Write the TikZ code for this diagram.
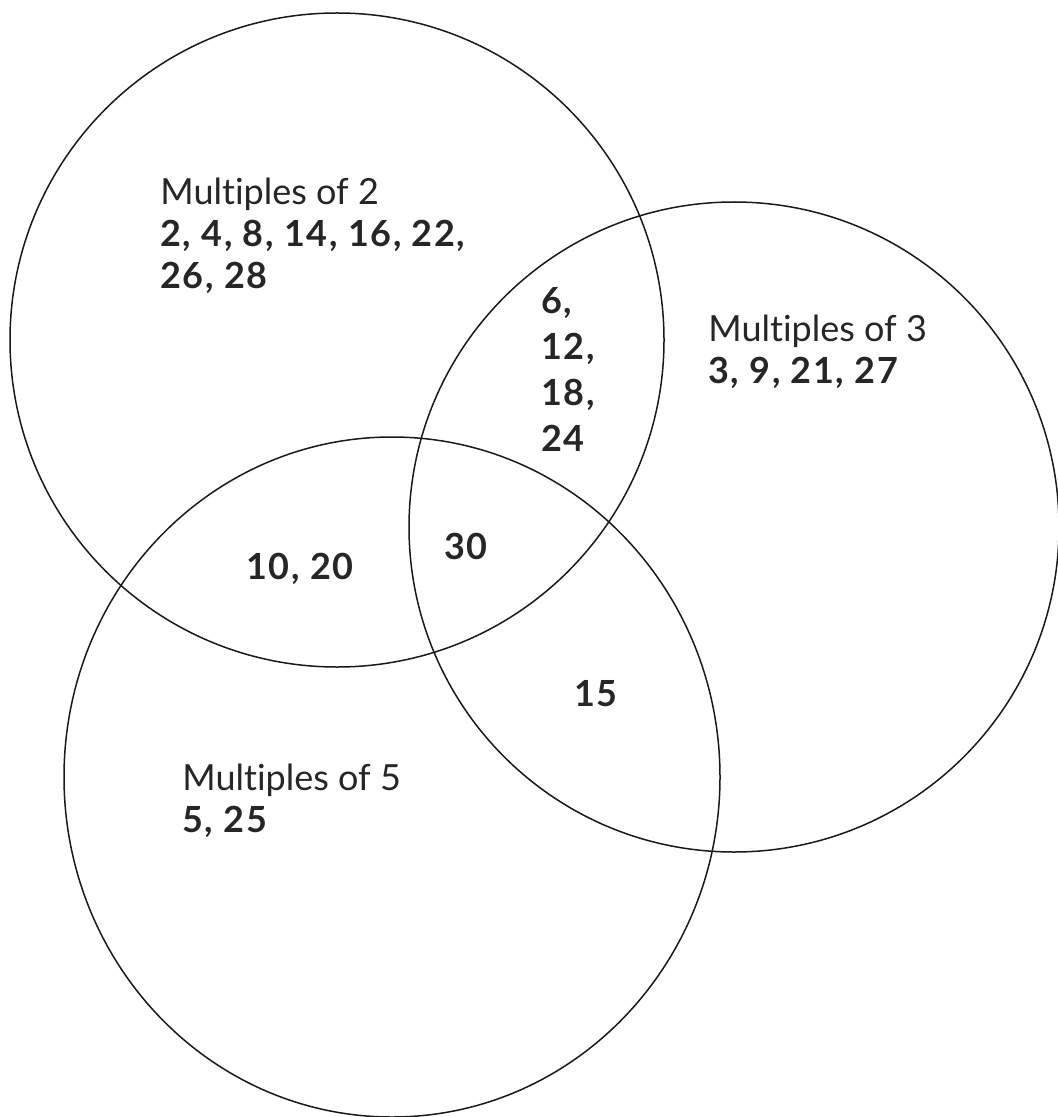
\documentclass[tikz,border=0pt]{standalone}
\usepackage{fontspec}
\setmainfont{Lato}[Ligatures=NoCommon, BoldFeatures={LetterSpace=4.5}]
\begin{document}
\begin{tikzpicture}[x=0.5pt, y=-0.5pt, line cap=round, line join=round,
    setring/.style={line width=0.75pt, black!90},
    setlabel/.style={anchor=north west, inner sep=0pt, align=left, text=black!85,
      font=\fontsize{18}{21}\selectfont},
    setnums/.style={setlabel, font=\fontsize{18}{23}\selectfont\bfseries}]
    \useasboundingbox (0,0) rectangle (1057,1117);
    % the three sets
    \draw[setring] (337,340) circle[radius=327];
    \draw[setring] (734,527) circle[radius=325];
    \draw[setring] (392,777) circle[x radius=328, y radius=340];
    % labels of the sets
    \node[setlabel] (two) at (160,178) {Multiples of 2\\ \textbf{2, 4, 8, 14, 16, 22,}\\ \textbf{26, 28}};
    \node[setlabel] (three) at (708,315) {Multiples of 3\\ \textbf{3, 9, 21, 27}};
    \node[setlabel] (five) at (182,764) {Multiples of 5\\ \textbf{5, 25}};
    % overlaps
    \node[setnums] (twothree) at (541,287) {6,\\ 12,\\ 18,\\ 24};
    \node[setnums] (twofive) at (246,553) {10, 20};
    \node[setnums] (all) at (444,533) {30};
    \node[setnums] (threefive) at (574,680) {15};
\end{tikzpicture}
\end{document}
